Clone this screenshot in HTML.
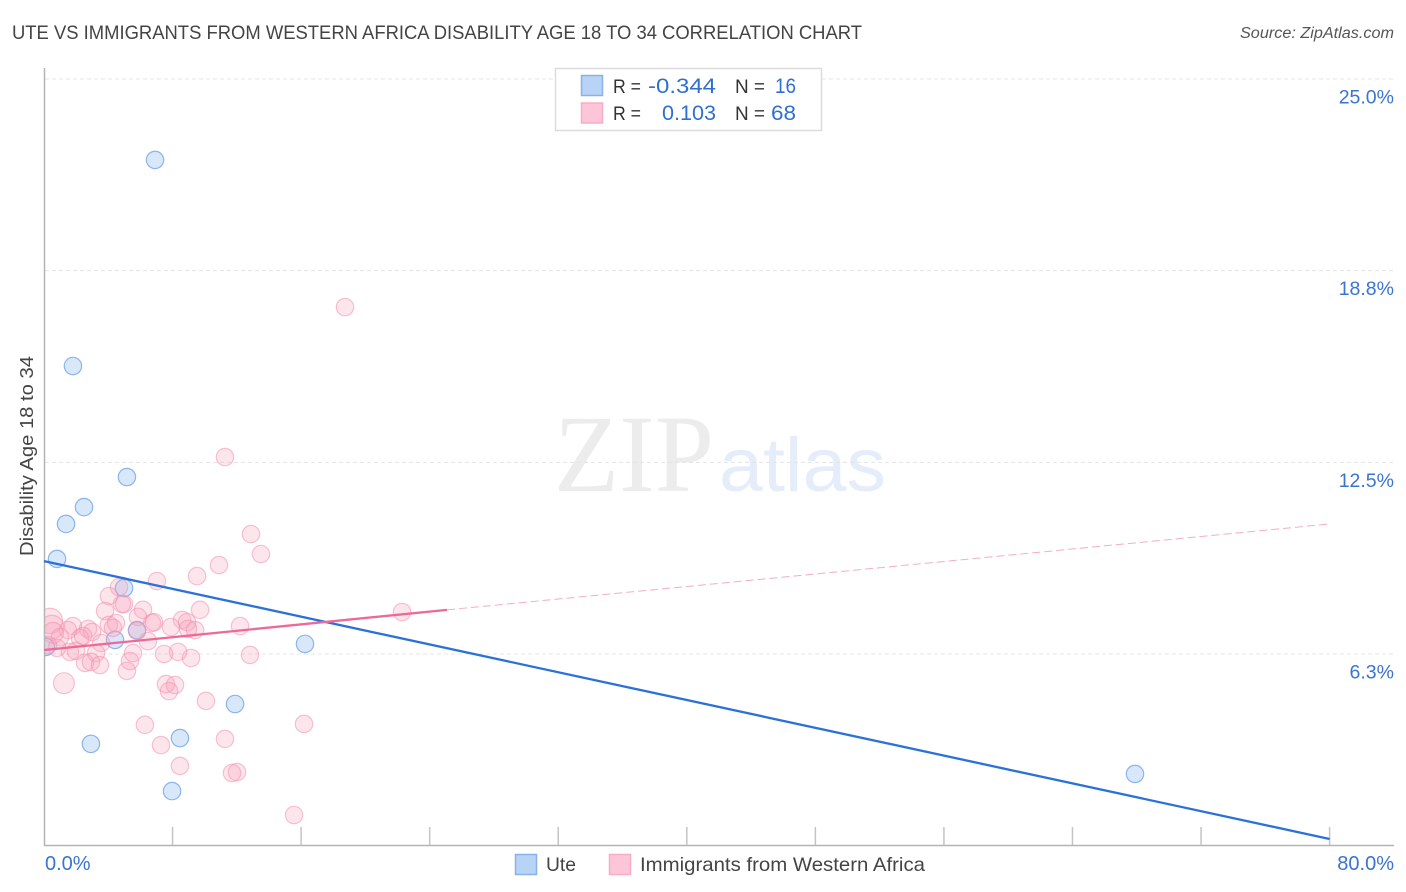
<!DOCTYPE html>
<html lang="en">
<head>
<meta charset="utf-8">
<title>Ute vs Immigrants from Western Africa Disability Age 18 to 34 Correlation Chart</title>
<style>
html,body{margin:0;padding:0;background:#fff;}
svg{display:block;font-family:"Liberation Sans",sans-serif;}
</style>
</head>
<body>
<svg id="chart" xmlns="http://www.w3.org/2000/svg" width="1406" height="892" viewBox="0 0 1406 892">
  <defs>
    <clipPath id="plot-clip"><rect x="45" y="60" width="1355" height="786"/></clipPath>
  </defs>
  <text x="12" y="39" font-size="19" fill="#444" textLength="850" lengthAdjust="spacingAndGlyphs">UTE VS IMMIGRANTS FROM WESTERN AFRICA DISABILITY AGE 18 TO 34 CORRELATION CHART</text>
  <text x="1394" y="38" font-size="15.5" font-style="italic" fill="#555" text-anchor="end" textLength="154" lengthAdjust="spacingAndGlyphs">Source: ZipAtlas.com</text>

  <g>
    <text x="554" y="491" font-family="'Liberation Serif',serif" font-size="110" fill="#ececec" textLength="160" lengthAdjust="spacingAndGlyphs">ZIP</text>
    <text x="719" y="491" font-size="76" fill="#e5edfa" textLength="167" lengthAdjust="spacingAndGlyphs">atlas</text>
  </g>

  <g id="grid"></g>
  <g id="axes"></g>
  <g id="blue-points" clip-path="url(#plot-clip)"></g>
  <g id="pink-points" clip-path="url(#plot-clip)"></g>
  <g id="trends"></g>
  <g id="labels"></g>

  <text transform="translate(33,456) rotate(-90)" font-size="18.5" fill="#444" text-anchor="middle" textLength="200" lengthAdjust="spacingAndGlyphs">Disability Age 18 to 34</text>

  <g>
    <rect x="555.5" y="68.5" width="266" height="62" fill="#fff" stroke="#dcdcdc" stroke-width="1.5"/>
    <rect x="581.5" y="75.5" width="21" height="20" fill="#b8d3f6" stroke="#8ab2e8" stroke-width="1.5"/>
    <rect x="581.5" y="103" width="21" height="20" fill="#fcc6d8" stroke="#f5aec5" stroke-width="1.5"/>
    <text x="613" y="93" font-size="19" fill="#333" textLength="28" lengthAdjust="spacingAndGlyphs">R =</text>
    <text x="648" y="93" font-size="21" fill="#2f6fd0" textLength="68" lengthAdjust="spacingAndGlyphs">-0.344</text>
    <text x="735" y="93" font-size="19" fill="#333" textLength="30" lengthAdjust="spacingAndGlyphs">N =</text>
    <text x="775" y="93" font-size="21" fill="#2f6fd0" textLength="21" lengthAdjust="spacingAndGlyphs">16</text>
    <text x="613" y="120" font-size="19" fill="#333" textLength="28" lengthAdjust="spacingAndGlyphs">R =</text>
    <text x="662" y="120" font-size="21" fill="#2f6fd0" textLength="54" lengthAdjust="spacingAndGlyphs">0.103</text>
    <text x="735" y="120" font-size="19" fill="#333" textLength="30" lengthAdjust="spacingAndGlyphs">N =</text>
    <text x="771" y="120" font-size="21" fill="#2f6fd0" textLength="25" lengthAdjust="spacingAndGlyphs">68</text>
  </g>

  <g>
    <rect x="515.5" y="854.5" width="21" height="20" fill="#b8d3f6" stroke="#8ab2e8" stroke-width="1.5"/>
    <text x="546" y="871" font-size="19.5" fill="#444" textLength="30" lengthAdjust="spacingAndGlyphs">Ute</text>
    <rect x="609.5" y="854.5" width="21" height="20" fill="#fcc6d8" stroke="#f5aec5" stroke-width="1.5"/>
    <text x="640" y="871" font-size="19.5" fill="#444" textLength="285" lengthAdjust="spacingAndGlyphs">Immigrants from Western Africa</text>
  </g>
</svg>
<script>
var xTickValues = [8, 16, 24, 32, 40, 48, 56, 64, 72, 80];
var xLabelValues = [0, 80];
var xLabelText = ['0.0%', '80.0%'];
var yGridValues = [25, 18.75, 12.5, 6.25];
var yLabelText = ['25.0%', '18.8%', '12.5%', '6.3%'];

var uteX = [6.91, 1.80, 5.16, 2.49, 1.37, 0.81, 4.98, 4.42, 5.79, 16.24, 11.89, 8.46, 2.92, 7.97, 67.89, 0.12];
var uteY = [22.36, 15.64, 12.02, 11.04, 10.49, 9.35, 8.40, 6.71, 7.03, 6.58, 4.62, 3.51, 3.32, 1.78, 2.34, 6.48];

var immigrantsX = [18.73, 11.26, 12.88, 13.50, 10.89, 9.52, 7.03, 4.67, 4.04, 4.98, 4.85, 3.80, 9.71, 6.16, 5.85, 22.28, 4.04, 4.48, 6.72, 6.84, 8.59, 8.90, 7.90, 9.40, 8.96, 12.20, 5.79, 6.47, 1.80, 2.74, 1.49, 2.99, 0.37, 0.50, 0.56, 1.00, 2.24, 2.43, 3.55, 1.62, 0.81, 1.99, 3.24, 5.54, 5.35, 5.16, 7.47, 8.34, 9.15, 12.82, 2.55, 2.92, 3.48, 1.24, 7.59, 8.15, 7.78, 10.08, 6.28, 7.28, 11.26, 16.18, 8.46, 12.01, 11.70, 15.56, 4.29, 0.25];
var immigrantsY = [17.56, 12.67, 10.16, 9.51, 9.15, 8.79, 8.63, 8.43, 8.14, 7.88, 7.88, 7.65, 7.69, 7.69, 7.46, 7.62, 7.20, 7.26, 7.26, 7.29, 7.36, 7.29, 7.13, 7.03, 7.07, 7.16, 7.00, 6.67, 7.16, 7.07, 7.03, 6.97, 7.33, 7.13, 6.94, 6.80, 6.77, 6.84, 6.61, 6.32, 6.45, 6.35, 6.28, 6.28, 6.02, 5.70, 6.25, 6.32, 6.12, 6.22, 5.96, 5.99, 5.89, 5.30, 5.27, 5.24, 5.04, 4.72, 3.94, 3.28, 3.48, 3.97, 2.60, 2.40, 2.37, 1.00, 7.10, 6.54];
var immigrantsWeight = [1,1,1,1,1,1,1,1,1,1,1,1,1,1,1,1,1,1,1,1,1,1,1,1,1,1,1,1,1,1,1,1,1.45,1.35,1.2,1,1,1,1,1,1,1,1,1,1,1,1,1,1,1,1,1,1,1.2,1,1,1,1,1,1,1,1,1,1,1,1,1,1];

var uteTrendX = [0, 80];
var uteTrendY = [9.28, 0.22];
var immigrantsSolidX = [0, 25.08];
var immigrantsSolidY = [6.38, 7.69];
var immigrantsDashX = [25.08, 80];
var immigrantsDashY = [7.69, 10.49];

var NS = 'http://www.w3.org/2000/svg';
function sx(v) { return 44 + v * 16.07; }
function sy(v) { return 845.7 - v * 30.67; }
function make(tag, parentId, attrs) {
  var el = document.createElementNS(NS, tag);
  for (var k in attrs) { el.setAttribute(k, attrs[k]); }
  document.getElementById(parentId).appendChild(el);
  return el;
}

yGridValues.forEach(function (v) {
  var el = make('line', 'grid', { x1: 45, x2: 1394, y1: sy(v), y2: sy(v), stroke: '#e4e4e4', 'stroke-width': 1, 'stroke-dasharray': '4 3' });
  
  
});

var yAxis = make('line', 'axes', { x1: 44.5, x2: 44.5, y1: 68, y2: 846, stroke: '#b4b4b4', 'stroke-width': 1.5 });


var xAxis = make('line', 'axes', { x1: 44, x2: 1394, y1: 845.5, y2: 845.5, stroke: '#b4b4b4', 'stroke-width': 1.5 });



xTickValues.forEach(function (v) {
  var t = make('line', 'axes', { x1: sx(v), x2: sx(v), y1: 827, y2: 845, stroke: '#c4c4c4', 'stroke-width': 1.5 });
  
  
});

uteX.forEach(function (v, i) {
  var c = make('circle', 'blue-points', { cx: sx(v), cy: sy(uteY[i]), r: 8.7, fill: 'rgb(110,165,235)', 'fill-opacity': 0.27, stroke: 'rgb(105,160,230)', 'stroke-opacity': 0.75, 'stroke-width': 1.2 });
  
  
});

immigrantsX.forEach(function (v, i) {
  var c = make('circle', 'pink-points', { cx: sx(v), cy: sy(immigrantsY[i]), r: 8.7 * immigrantsWeight[i], fill: 'rgb(248,160,185)', 'fill-opacity': 0.28, stroke: 'rgb(242,145,175)', 'stroke-opacity': 0.55, 'stroke-width': 1.2 });
  
  
});

function trend(xs, ys, color, width, dash, name) {
  var l = make('line', 'trends', { x1: sx(xs[0]), y1: sy(ys[0]), x2: sx(xs[1]), y2: sy(ys[1]), stroke: color, 'stroke-width': width });
  if (dash) { l.setAttribute('stroke-dasharray', dash); }
  
  
}
trend(uteTrendX, uteTrendY, '#2a72d8', 2.3, null, 'ute-trend-line');
trend(immigrantsSolidX, immigrantsSolidY, '#ee6a96', 2.3, null, 'immigrants-trend-line');
trend(immigrantsDashX, immigrantsDashY, '#f2aec4', 1, '8 4', 'immigrants-trend-projection');

yGridValues.forEach(function (v, i) {
  var t = make('text', 'labels', { x: 1394, y: sy(v) + 24.5, 'font-size': 19.5, fill: '#3a74d2', 'text-anchor': 'end' });
  t.textContent = yLabelText[i];
  
  
});
xLabelValues.forEach(function (v, i) {
  var t = make('text', 'labels', { x: i === 0 ? sx(v) + 1 : 1394, y: 870, 'font-size': 20, fill: '#3a74d2', 'text-anchor': i === 0 ? 'start' : 'end' });
  t.textContent = xLabelText[i];
  
  
});
</script>
</body>
</html>
